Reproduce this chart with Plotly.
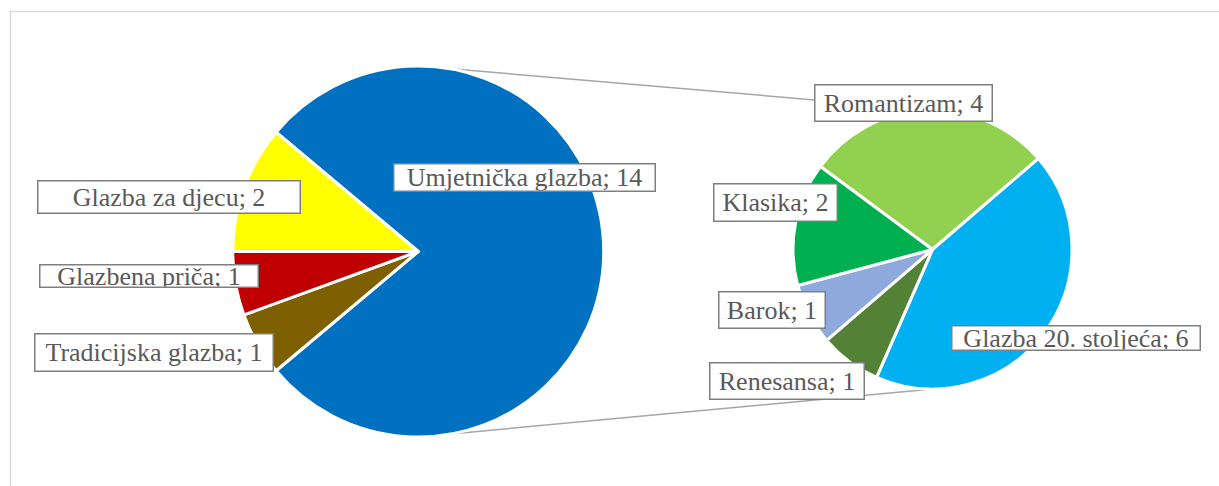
import plotly.graph_objects as go

W, H = 1219, 486

# podaci - glavni krug
main_labels = ["Umjetnička glazba", "Tradicijska glazba", "Glazbena priča", "Glazba za djecu"]
main_values = [14, 1, 1, 2]
main_colors = ["#0070C0", "#7F6000", "#C00000", "#FFFF00"]

# podaci - drugi krug (razrada umjetničke glazbe)
sub_labels = ["Romantizam", "Glazba 20. stoljeća", "Renesansa", "Barok", "Klasika"]
sub_values = [4, 6, 1, 1, 2]
sub_colors = ["#92D050", "#00B0F0", "#538135", "#8EA9DB", "#00B050"]

# geometrija krugova u pikselima (centar x, centar y, radijus)
main_c = (418.2, 251.5, 185.5)
sub_c = (932.5, 249.5, 139.5)


def px(x):
    return x / W


def py(y):
    return 1 - y / H


def domain(c):
    cx, cy, r = c
    return dict(x=[px(cx - r), px(cx + r)], y=[py(cy + r), py(cy - r)])


fig = go.Figure()

fig.add_trace(go.Pie(
    labels=main_labels, values=main_values, sort=False,
    direction="clockwise", rotation=-50,
    marker=dict(colors=main_colors, line=dict(color="white", width=3)),
    textinfo="none", hoverinfo="label+value",
    domain=domain(main_c), showlegend=False
))

fig.add_trace(go.Pie(
    labels=sub_labels, values=sub_values, sort=False,
    direction="clockwise", rotation=-53.5,
    marker=dict(colors=sub_colors, line=dict(color="white", width=3)),
    textinfo="none", hoverinfo="label+value",
    domain=domain(sub_c), showlegend=False
))

# spojne linije: vrh i dno glavnog kruga prema vrhu i dnu drugog kruga
shapes = []
for sgn in (-1, 1):
    shapes.append(dict(
        type="line", xref="paper", yref="paper", layer="below",
        x0=px(main_c[0]), y0=py(main_c[1] + sgn * main_c[2]),
        x1=px(sub_c[0]), y1=py(sub_c[1] + sgn * sub_c[2]),
        line=dict(color="#A6A6A6", width=1.5)
    ))

# okvir grafikona
shapes.append(dict(
    type="rect", xref="paper", yref="paper", layer="below",
    x0=px(10.5), y0=py(500), x1=px(1240), y1=py(11.5),
    line=dict(color="#D9D9D9", width=1.5)
))

# oznake: (tekst, centar x, centar y, širina, visina) u pikselima
label_boxes = [
    (f"{main_labels[0]}; {main_values[0]}", 524.5, 177.5, 263, 29),
    (f"{main_labels[3]}; {main_values[3]}", 169, 197, 264, 34),
    (f"{main_labels[2]}; {main_values[2]}", 149, 276, 220, 24),
    (f"{main_labels[1]}; {main_values[1]}", 154, 352.5, 240, 39),
    (f"{sub_labels[0]}; {sub_values[0]}", 903.5, 103, 179, 38),
    (f"{sub_labels[4]}; {sub_values[4]}", 775.5, 202.5, 125, 39),
    (f"{sub_labels[3]}; {sub_values[3]}", 772, 310, 108, 38),
    (f"{sub_labels[1]}; {sub_values[1]}", 1076, 338, 250, 26),
    (f"{sub_labels[2]}; {sub_values[2]}", 787, 381, 156, 38),
]

bw = 1.5
annotations = []
for txt, cx, cy, w, h in label_boxes:
    annotations.append(dict(
        text=txt, x=px(cx), y=py(cy), xref="paper", yref="paper",
        xanchor="center", yanchor="middle", showarrow=False,
        width=w - 2 * bw, height=h - 2 * bw, borderpad=0,
        bgcolor="white", bordercolor="#7F7F7F", borderwidth=bw,
        font=dict(family="Liberation Serif", size=26, color="#595959")
    ))

fig.update_layout(
    width=W, height=H,
    margin=dict(l=0, r=0, t=0, b=0),
    paper_bgcolor="white", plot_bgcolor="white",
    shapes=shapes, annotations=annotations
)

# bez zadanog ruba stranice, da slika krene od (0, 0)
fig.write_html("out.html", config={"displayModeBar": False},
               post_script="document.body.style.margin='0';")
